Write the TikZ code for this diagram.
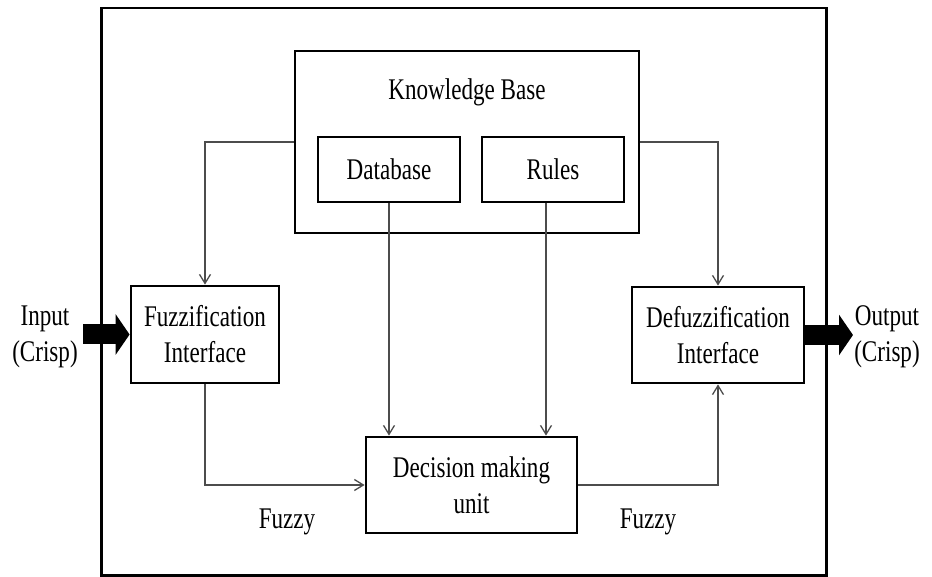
\documentclass[tikz,border=0pt]{standalone}
\usepackage{fontspec}
\setmainfont{Liberation Serif}[FakeStretch=0.77]
\usetikzlibrary{arrows.meta,positioning}

\tikzset{
  block/.style={draw, line width=2.8pt, inner sep=0pt, align=center},
  link/.style={draw=black!70, line width=1.3pt, -{Straight Barb[length=9pt,width=11pt]}},
  fat/.style={line width=20pt, -{Triangle[length=14pt,width=40pt]}},
  lbl/.style={inner sep=0pt, align=center}
}

\begin{document}
\begin{tikzpicture}[x=1pt,y=-1pt, every node/.style={font=\fontsize{30}{36}\selectfont}]
\useasboundingbox (0,0) rectangle (932,577);

% enclosing frame of the fuzzy system
\node[block, minimum width=725pt, minimum height=567pt] (frame) at (464.3,291.6) {};

% knowledge base with its two parts
\node[block, minimum width=344pt, minimum height=182pt] (kb) at (467,142) {};
\node[lbl, anchor=base] (kbt) at (467,99.5) {Knowledge Base};
\node[block, minimum width=142pt, minimum height=65pt] (db) at (389,169.5) {Database};
\node[block, minimum width=142pt, minimum height=65pt] (ru) at (553,169.5) {Rules};

% processing stages
\node[block, minimum width=148pt, minimum height=97pt] (fz) at (205,334.5) {Fuzzification\\Interface};
\node[block, minimum width=172pt, minimum height=96pt] (df) at (718,335) {Defuzzification\\Interface};
\node[block, minimum width=211pt, minimum height=96pt] (dm) at (471.5,485) {Decision making\\unit};

% crisp input and output
\node[lbl] (inl) at (45,337) {Input\\(Crisp)};
\node[lbl] (outl) at (887,337) {Output\\(Crisp)};
\coordinate (in0) at (83,334.5);
\coordinate (out0) at (853,335);
\draw[fat] (in0) -- (fz.west);
\draw[fat] (df.east) -- (out0);

% knowledge base feeds
\draw[link] (kb.west) -| (fz.north);
\draw[link] (kb.east) -| (df.north);
\draw[link] (db.south) -- (db.south |- dm.north);
\coordinate (rs) at ([xshift=-7pt]ru.south);
\draw[link] (rs) -- (rs |- dm.north);

% fuzzy signal paths
\draw[link] (fz.south) |- (dm.west);
\draw[link] (dm.east) -| (df.south);
\node[lbl, anchor=base] (fzl) at (287,528) {Fuzzy};
\node[lbl, anchor=base] (fzr) at (648,528) {Fuzzy};
\end{tikzpicture}
\end{document}
